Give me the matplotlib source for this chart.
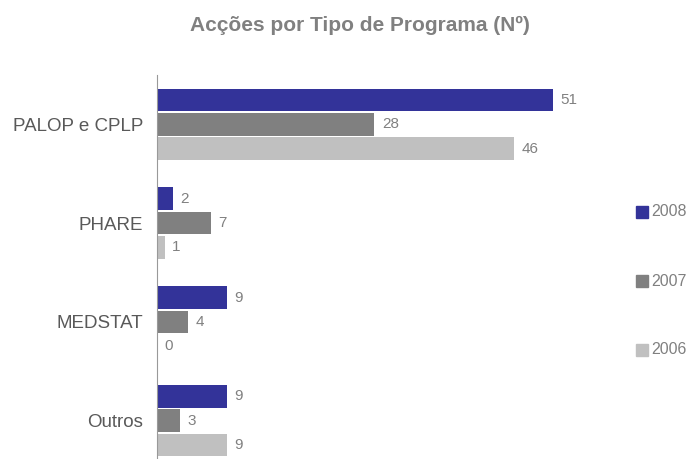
import matplotlib
matplotlib.use("Agg")
import matplotlib.pyplot as plt
import numpy as np

plt.rcParams['font.family'] = ['Liberation Sans', 'DejaVu Sans']

categories = ["PALOP e CPLP", "PHARE", "MEDSTAT", "Outros"]
years = ["2008", "2007", "2006"]
values = {
    "2008": [51, 2, 9, 9],
    "2007": [28, 7, 4, 3],
    "2006": [46, 1, 0, 9],
}
colors = {"2008": "#333399", "2007": "#808080", "2006": "#C0C0C0"}

W, H = 691, 459
fig = plt.figure(figsize=(W/100, H/100), dpi=100)
ax = fig.add_axes([157/W, 1-470/H, 466/W, 395/H])

y = np.arange(len(categories))
pitch = 0.246
bh = 0.23
offsets = {"2008": -pitch, "2007": 0.0, "2006": pitch}
for yr in years:
    vals = values[yr]
    ax.barh(y + offsets[yr], vals, height=bh, color=colors[yr], label=yr)
    for yi, v in zip(y + offsets[yr], vals):
        ax.text(v + 0.95, yi, str(v), va='center', ha='left', fontsize=11, color='#808080')

ax.set_xlim(0, 60)
ax.set_ylim(3.5, -0.5)
ax.set_yticks(y)
ax.set_yticklabels(categories, fontsize=13.5, color='#595959')
ax.tick_params(axis='y', length=0, pad=10)
ax.set_xticks([])
for s in ['top', 'right', 'bottom']:
    ax.spines[s].set_visible(False)
ax.spines['left'].set_color('#999999')
ax.spines['left'].set_clip_on(False)

fig.text(360/W, 1-31/H, "Acções por Tipo de Programa (Nº)", ha='center', va='baseline',
         fontsize=15, fontweight='bold', color='#808080')

# legend entries manually placed
leg_y = [212, 281, 350]
for yr, ly in zip(years, leg_y):
    fig.patches.append(plt.Rectangle((636/W, 1-(ly+6)/H), 12/W, 12/H,
                                     transform=fig.transFigure, color=colors[yr]))
    fig.text(651/W, 1-ly/H, yr, ha='left', va='center', fontsize=11.5, color='#808080')

fig.savefig("out.png", dpi=100)
